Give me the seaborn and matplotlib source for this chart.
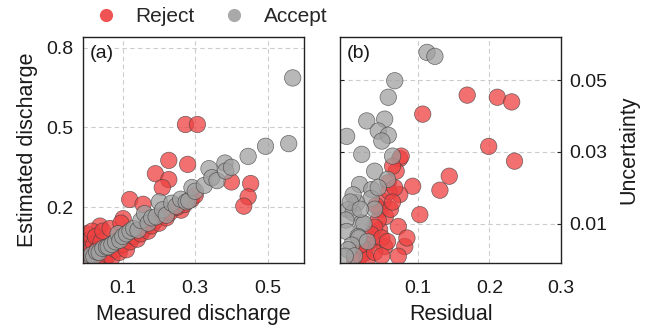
import numpy as np
import pandas as pd
import matplotlib
matplotlib.use("Agg")
import matplotlib.pyplot as plt
import seaborn as sns
from matplotlib.lines import Line2D

# ---- data: panel (a) measured vs estimated discharge ----
a_accept_x = [0.005, 0.012, 0.02, 0.028, 0.035, 0.045, 0.055, 0.06, 0.07, 0.08, 0.087, 0.092, 0.10, 0.11,
              0.12, 0.13, 0.142, 0.15, 0.16, 0.17, 0.18, 0.192, 0.201, 0.21, 0.22, 0.235, 0.247, 0.26,
              0.275, 0.282, 0.291, 0.30, 0.325, 0.338, 0.346, 0.36, 0.382, 0.384, 0.40, 0.446, 0.494,
              0.558, 0.569]
a_accept_y = [0.01, 0.02, 0.015, 0.032, 0.03, 0.045, 0.05, 0.051, 0.06, 0.07, 0.10, 0.076, 0.09, 0.10,
              0.11, 0.12, 0.114, 0.15, 0.176, 0.14, 0.16, 0.164, 0.22, 0.19, 0.17, 0.215, 0.204, 0.23,
              0.22, 0.224, 0.274, 0.26, 0.282, 0.345, 0.311, 0.30, 0.366, 0.336, 0.35, 0.391, 0.429,
              0.439, 0.686]
a_reject_x = [0.273, 0.306, 0.227, 0.279, 0.19, 0.227, 0.209, 0.40, 0.453, 0.446, 0.434, 0.119, 0.156,
              0.261, 0.101, 0.037, 0.0, 0.005, 0.01, 0.0, 0.015, 0.02, 0.025, 0.03, 0.035, 0.04, 0.045,
              0.05, 0.055, 0.06, 0.065, 0.07, 0.075, 0.08, 0.09, 0.095, 0.10, 0.11, 0.12, 0.13, 0.14,
              0.15, 0.16, 0.17, 0.18, 0.19, 0.20, 0.21, 0.22, 0.23, 0.25, 0.29, 0.30, 0.27]
a_reject_y = [0.511, 0.511, 0.376, 0.361, 0.326, 0.304, 0.274, 0.295, 0.289, 0.239, 0.204, 0.229, 0.211,
              0.189, 0.157, 0.129, 0.02, 0.05, 0.08, 0.10, 0.11, 0.06, 0.09, 0.04, 0.01, 0.07, 0.11,
              0.0, 0.03, 0.02, 0.12, 0.01, 0.06, 0.04, 0.03, 0.14, 0.06, 0.04, 0.07, 0.09, 0.08,
              0.10, 0.12, 0.11, 0.13, 0.15, 0.14, 0.17, 0.16, 0.18, 0.20, 0.23, 0.245, 0.21]

# ---- data: panel (b) residual vs uncertainty ----
b_accept_x = [0.113, 0.124, 0.068, 0.059, 0.029, 0.054, 0.045, 0.059, 0.05, 0.001, 0.022, 0.065, 0.040,
              0.058, 0.019, 0.036, 0.035, 0.015, 0.003, 0.01, 0.022, 0.0, 0.025, 0.001, 0.017, 0.018,
              0.008, 0.003, 0.012, -0.001, 0.03, 0.04, 0.045, 0.01, 0.006, 0.02]
b_accept_y = [0.0577, 0.0566, 0.0498, 0.0452, 0.0386, 0.0391, 0.0358, 0.0346, 0.033, 0.0343, 0.0293,
              0.0288, 0.0246, 0.0223, 0.0209, 0.0195, 0.017, 0.0158, 0.0139, 0.013, 0.0102, 0.011,
              0.01, 0.0078, 0.0064, 0.006, 0.004, 0.0027, 0.001, 0.0009, 0.005, 0.014, 0.02, 0.018,
              0.016, 0.014]
b_reject_x = [0.169, 0.211, 0.231, 0.107, 0.199, 0.235, 0.144, 0.131, 0.093, 0.075, 0.077, 0.07, 0.075,
              0.052, 0.103, 0.073, 0.047, 0.036, 0.054, 0.082, 0.026, 0.012, 0.073, 0.047, 0.059, 0.065,
              0.06, 0.055, 0.045, 0.04, 0.035, 0.03, 0.025, 0.02, 0.05, 0.042, 0.062, 0.068, 0.058,
              0.085, 0.03, 0.04, 0.02, 0.05, 0.065]
b_reject_y = [0.0458, 0.0452, 0.0439, 0.0405, 0.0315, 0.0274, 0.0232, 0.0193, 0.0204, 0.0281, 0.0288,
              0.0246, 0.0181, 0.0162, 0.0125, 0.0092, 0.0083, 0.0055, 0.0036, 0.0036, 0.0018, 0.0,
              0.0009, 0.0139, 0.0214, 0.026, 0.019, 0.012, 0.011, 0.009, 0.007, 0.004, 0.003, 0.001,
              0.006, 0.015, 0.014, 0.02, 0.005, 0.006, 0.0, 0.002, 0.004, 0.001, 0.016]

labels = ["Reject", "Accept"]
palette = {"Reject": "#EE4040", "Accept": "#A0A0A0"}

df_a = pd.DataFrame({
    "x": a_reject_x + a_accept_x,
    "y": a_reject_y + a_accept_y,
    "status": ["Reject"] * len(a_reject_x) + ["Accept"] * len(a_accept_x),
})
df_b = pd.DataFrame({
    "x": b_reject_x + b_accept_x,
    "y": b_reject_y + b_accept_y,
    "status": ["Reject"] * len(b_reject_x) + ["Accept"] * len(b_accept_x),
})

sns.set_theme(style="white")
plt.rcParams["font.family"] = ["Liberation Sans", "DejaVu Sans"]
TXT = "#1a1a1a"

fig = plt.figure(figsize=(6.48, 3.33), dpi=100)
ax1 = fig.add_axes([0.128, 0.21, 0.341, 0.679])
ax2 = fig.add_axes([0.525, 0.21, 0.341, 0.679])

for ax, df in ((ax1, df_a), (ax2, df_b)):
    sns.scatterplot(data=df, x="x", y="y", hue="status", hue_order=labels, palette=palette,
                    s=140, alpha=0.75, edgecolor="#404040", linewidth=0.5, ax=ax, legend=False)
    ax.grid(True, linestyle=(0, (4, 3)), color="#CCCCCC", linewidth=0.8)
    for sp in ax.spines.values():
        sp.set_color("#222222")
        sp.set_linewidth(1.0)
    ax.tick_params(direction="in", length=3, width=0.8, colors="#222222", labelsize=14,
                   labelcolor=TXT)
    ax.set_axisbelow(True)

ax1.set_xlim(-0.01, 0.6)
ax1.set_ylim(-0.01, 0.84)
ax1.set_xticks([0.1, 0.3, 0.5])
ax1.set_yticks([0.2, 0.5, 0.8])
ax1.set_xlabel("Measured discharge", fontsize=15.5, color=TXT, labelpad=5)
ax1.set_ylabel("Estimated discharge", fontsize=15.5, color=TXT, labelpad=6)
ax1.tick_params(axis="x", pad=12)
ax1.tick_params(axis="y", pad=7)
ax1.text(0.03, 0.965, "(a)", transform=ax1.transAxes, ha="left", va="top", fontsize=14, color=TXT)

ax2.set_xlim(-0.008, 0.3)
ax2.set_ylim(-0.001, 0.062)
ax2.set_xticks([0.1, 0.2, 0.3])
ax2.set_yticks([0.01, 0.03, 0.05])
ax2.yaxis.tick_right()
ax2.yaxis.set_label_position("right")
ax2.tick_params(axis="y", left=True, right=True, labelleft=False, labelright=True, pad=6)
ax2.tick_params(axis="x", pad=12)
ax2.set_xlabel("Residual", fontsize=15.5, color=TXT, labelpad=5)
ax2.set_ylabel("Uncertainty", fontsize=15.5, color=TXT, labelpad=8)
ax2.text(0.03, 0.965, "(b)", transform=ax2.transAxes, ha="left", va="top", fontsize=14, color=TXT)

handles = [Line2D([0], [0], marker="o", linestyle="", markersize=9.5,
                  markerfacecolor=palette[l], markeredgecolor="none", alpha=0.9) for l in labels]
fig.legend(handles, labels, loc="center", bbox_to_anchor=(0.325, 0.95), ncol=2, frameon=False,
           fontsize=15, handletextpad=0.8, columnspacing=1.3, handlelength=1.2)

fig.savefig("out.png", dpi=100)
